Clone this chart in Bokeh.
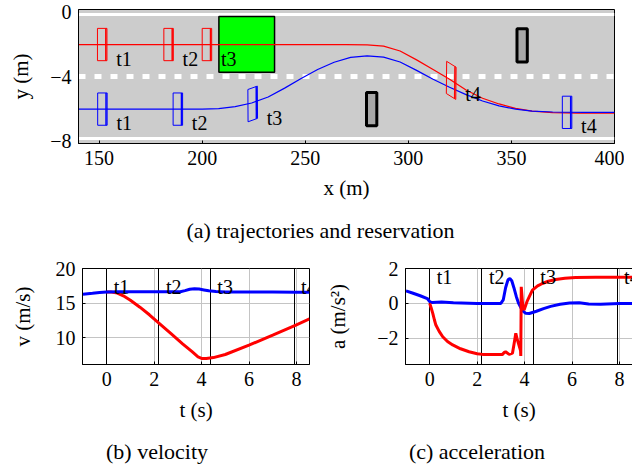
import numpy as np
from bokeh.plotting import figure
from bokeh.models import Range1d, FixedTicker
from bokeh.layouts import column, row
from bokeh.core.properties import value
from bokeh.embed import file_html
from bokeh.resources import INLINE

FONT = "Liberation Serif"

# ---------------- data: (a) trajectories and reservation ----------------
red_x = [140, 270, 280, 288, 296, 304, 312, 320, 328, 336, 344, 352, 360, 370, 382, 400]
red_y = [-2.0, -2.0, -2.02, -2.1, -2.4, -2.95, -3.55, -4.15, -4.82, -5.33, -5.68, -5.95, -6.12, -6.22, -6.25, -6.25]
blue_x = [140, 200, 208, 216, 224, 232, 240, 248, 256, 264, 272, 280, 288, 296, 304, 312,
          320, 328, 336, 344, 352, 360, 370, 385, 400]
blue_y = [-6.0, -6.0, -5.97, -5.85, -5.62, -5.25, -4.7, -4.1, -3.55, -3.1, -2.8, -2.7, -2.78,
          -3.08, -3.6, -4.15, -4.65, -5.1, -5.5, -5.8, -6.0, -6.12, -6.18, -6.2, -6.2]
veh_labels = ["t1", "t2", "t3", "t4"]
red_veh_x = [151.5, 183.7, 202.3, 320.8]
red_veh_y = [-2.0, -2.0, -2.0, -4.22]
red_veh_slope = [0.0, 0.0, 0.0, -0.08]
blue_veh_x = [151.6, 188.2, 224.5, 377.0]
blue_veh_y = [-6.0, -6.0, -5.68, -6.2]
blue_veh_slope = [0.0, 0.0, 0.046, 0.0]
veh_len = 4.6
veh_wid = 2.0
obs_x = [282.2, 355.2]
obs_y = [-6.0, -2.05]
obs_len = 5.0
obs_wid = 2.05
res_left, res_right, res_bottom, res_top = 208.1, 235.1, -3.72, -0.26
lane_edges = [-0.17, -7.8]
lane_mid = [-4.0]
top_xticks = [150, 200, 250, 300, 350, 400]
top_yticks = [0, -4, -8]
top_ytick_labels = ["0", "\u22124", "\u22128"]

# ---------------- data: (b) velocity, (c) acceleration ----------------
event_t = [0.0, 2.2, 4.37, 7.9]
vel_blue_t = [-1.0, -0.6, -0.3, 0.0, 0.5, 1.5, 2.5, 3.1, 3.3, 3.5, 3.7, 3.9, 4.1, 4.3, 4.6, 5.0, 6.0, 7.0, 8.0, 8.55]
vel_blue = [16.28, 16.42, 16.53, 16.6, 16.62, 16.62, 16.62, 16.63, 16.8, 17.0, 17.08, 17.02, 16.9, 16.78,
            16.66, 16.6, 16.6, 16.58, 16.56, 16.55]
vel_red_t = [0.0, 0.2, 0.45, 0.7, 1.0, 1.4, 1.8, 2.2, 2.7, 3.2, 3.6, 3.85, 4.0, 4.2, 4.5, 5.0, 6.0, 7.0, 8.0, 8.55]
vel_red = [16.6, 16.58, 16.45, 16.05, 15.4, 14.4, 13.3, 12.1, 10.6, 9.1, 7.95, 7.2, 6.98, 6.97, 7.1,
           7.55, 8.9, 10.35, 11.85, 12.7]
acc_blue_t = [-1.0, -0.7, -0.4, -0.1, 0.0, 0.1, 0.5, 1.0, 2.0, 3.0, 3.1, 3.2, 3.3, 3.38, 3.46, 3.55, 3.65,
              3.75, 3.9, 4.05, 4.2, 4.5, 4.8, 5.1, 5.5, 5.9, 6.3, 6.7, 7.2, 8.0, 8.55]
acc_blue = [0.72, 0.58, 0.44, 0.28, 0.1, 0.05, 0.08, 0.04, 0.0, 0.0, 0.2, 0.9, 1.35, 1.42, 1.3, 0.9, 0.4,
            0.0, -0.4, -0.57, -0.58, -0.45, -0.3, -0.17, -0.05, 0.02, 0.04, -0.04, -0.05, -0.01, 0.0]
acc_red_t = [0.0, 0.06, 0.13, 0.2, 0.26, 0.4, 0.55, 0.75, 0.97, 1.3, 1.66, 2.0, 2.23, 3.07, 3.15, 3.2, 3.35,
             3.49, 3.56, 3.63, 3.68, 3.74, 3.83, 3.84, 3.86, 3.92, 3.98, 4.1, 4.33, 4.55, 4.75, 5.0, 5.31,
             5.7, 6.15, 7.0, 8.55]
acc_red = [0.0, -0.25, -0.57, -0.95, -1.24, -1.6, -1.91, -2.18, -2.38, -2.6, -2.77, -2.88, -2.92, -2.92,
           -2.8, -2.77, -2.92, -2.85, -2.3, -1.71, -2.0, -2.29, -2.7, -3.01, 0.95, -0.1, -0.38, 0.1, 0.76,
           1.0, 1.14, 1.27, 1.37, 1.44, 1.49, 1.5, 1.5]
t_ticks = [0, 2, 4, 6, 8]
vel_ticks = [10, 15, 20]
acc_ticks = [-2, 0, 2]
acc_tick_labels = ["\u22122", "0", "2"]

captions = ["(a) trajectories and reservation", "(b) velocity", "(c) acceleration"]


def style_axes(p, tick_in_x=3, tick_in_y=3):
    for ax in p.axis:
        ax.major_label_text_font = FONT
        ax.major_label_text_font_size = "20px"
        ax.axis_label_text_font = FONT
        ax.axis_label_text_font_size = "21px"
        ax.axis_label_text_font_style = "normal"
        ax.major_tick_out = 0
        ax.minor_tick_in = 0
        ax.minor_tick_out = 0
        ax.major_label_standoff = 7
        ax.axis_line_color = "black"
        ax.major_tick_line_color = "black"
        ax.major_label_text_color = "black"
        ax.axis_label_text_color = "black"
    p.xaxis.major_tick_in = tick_in_x
    p.yaxis.major_tick_in = tick_in_y
    p.outline_line_color = "black"
    p.outline_line_width = 1
    p.outline_line_alpha = 1


def box(cx, cy, slope, L, W):
    th = np.arctan(slope)
    c, s = np.cos(th), np.sin(th)
    pts = [(L / 2, W / 2), (L / 2, -W / 2), (-L / 2, -W / 2), (-L / 2, W / 2)]
    xs = [cx + a * c - b * s for a, b in pts]
    ys = [cy + a * s + b * c for a, b in pts]
    a = L / 2 - 0.55
    fx = [cx + a * c - b * s for b in (W / 2, -W / 2)]
    fy = [cy + a * s + b * c for b in (W / 2, -W / 2)]
    return xs, ys, fx, fy


def caption_fig(height, xs, y_from_top, texts):
    # page-pixel coordinates: frame spans page x 78..614, same borders as the top figure
    c = figure(frame_width=536, frame_height=height, min_border_left=78, min_border_right=10,
               min_border_top=0, min_border_bottom=0,
               x_range=Range1d(78, 614), y_range=Range1d(0, height),
               x_axis_type=None, y_axis_type=None, output_backend="svg",
               toolbar_location=None, tools="")
    c.outline_line_color = None
    c.grid.visible = False
    c.text(x=xs, y=[height - y_from_top] * len(xs), text=texts, text_align="center",
           text_baseline="middle", text_font=value(FONT), text_font_size="22px", text_color="black")
    return c


# ---------------- top figure ----------------
p1 = figure(frame_width=536, frame_height=134, min_border_left=78, min_border_right=10,
            min_border_top=9, min_border_bottom=62,
            x_range=Range1d(140, 400), y_range=Range1d(-8.13, 0.17),
            output_backend="svg", toolbar_location=None, tools="")
p1.background_fill_color = "#cccccc"
p1.border_fill_color = "white"
p1.grid.visible = False
p1.xaxis.ticker = FixedTicker(ticks=top_xticks)
p1.yaxis.ticker = FixedTicker(ticks=top_yticks)
p1.yaxis.major_label_overrides = dict(zip(top_yticks, top_ytick_labels))
p1.xaxis.axis_label = "x (m)"
p1.yaxis.axis_label = "y (m)"
style_axes(p1, 3, 0)
p1.xaxis.axis_label_standoff = 8
p1.yaxis.axis_label_standoff = 14

p1.hspan(y=lane_edges, line_color="white", line_width=3)
p1.hspan(y=lane_mid, line_color="white", line_width=5, line_dash="7 9")
p1.quad(left=[res_left], right=[res_right], bottom=[res_bottom], top=[res_top],
        fill_color="#00ff00", line_color="black", line_width=1.5)
p1.rect(x=obs_x, y=obs_y, width=obs_len, height=obs_wid, fill_color="#a8a8a8",
        line_color="black", line_width=3)
p1.line(red_x, red_y, line_color="red", line_width=1.2)
p1.line(blue_x, blue_y, line_color="blue", line_width=1.2)

for vx, vy, vs, col in ((red_veh_x, red_veh_y, red_veh_slope, "red"),
                        (blue_veh_x, blue_veh_y, blue_veh_slope, "blue")):
    bxs, bys, fxs, fys = [], [], [], []
    for cx, cy, sl in zip(vx, vy, vs):
        xs, ys, fx, fy = box(cx, cy, sl, veh_len, veh_wid)
        bxs.append(xs); bys.append(ys); fxs.append(fx); fys.append(fy)
    p1.patches(bxs, bys, fill_color=None, line_color=col, line_width=1)
    p1.multi_line(fxs, fys, line_color=col, line_width=1.5)
    p1.text(x=vx, y=vy, text=veh_labels, x_offset=14, y_offset=14, text_align="left",
            text_baseline="alphabetic", text_font=value(FONT), text_font_size="20px",
            text_color="black")

cap_a = caption_fig(45, [320], 25, [captions[0]])


# ---------------- bottom figures ----------------
def bottom_fig(left_border, right_border, y0, y1, yticks, ylabel, t_list, curves, label_y_off,
               label_standoff, overrides=None):
    p = figure(frame_width=227, frame_height=96, min_border_left=left_border,
               min_border_right=right_border, min_border_top=18, min_border_bottom=58,
               x_range=Range1d(-1.02, 8.55), y_range=Range1d(y0, y1),
               output_backend="svg", toolbar_location=None, tools="")
    p.background_fill_color = "white"
    p.xaxis.ticker = FixedTicker(ticks=t_ticks)
    p.yaxis.ticker = FixedTicker(ticks=yticks)
    p.xgrid.ticker = FixedTicker(ticks=t_ticks)
    p.ygrid.ticker = FixedTicker(ticks=yticks)
    p.grid.grid_line_color = "#c4c4c4"
    p.grid.grid_line_width = 1
    if overrides:
        p.yaxis.major_label_overrides = overrides
    p.xaxis.axis_label = "t (s)"
    p.yaxis.axis_label = ylabel
    style_axes(p, 3, 3)
    p.xaxis.axis_label_standoff = 9
    p.yaxis.axis_label_standoff = label_standoff
    p.vspan(x=t_list, line_color="black", line_width=1)
    for tx, ty, col in curves:
        p.line(tx, ty, line_color=col, line_width=3)
    p.text(x=t_list, y=[y1] * len(t_list), text=veh_labels, x_offset=7, y_offset=label_y_off,
           text_align="left", text_baseline="alphabetic", text_font=value(FONT),
           text_font_size="20px", text_color="black")
    return p


p2 = bottom_fig(82, 14, 6.1, 20, vel_ticks, "v (m/s)", event_t,
                [(vel_red_t, vel_red, "red"), (vel_blue_t, vel_blue, "blue")], 18, 18)
p3 = bottom_fig(76, 3, -3.5, 2, acc_ticks, "a (m/s\u00b2)", event_t,
                [(acc_blue_t, acc_blue, "blue"), (acc_red_t, acc_red, "red")], 8, 24,
                dict(zip(acc_ticks, acc_tick_labels)))

cap_bc = caption_fig(44, [156.5, 476.5], 27, captions[1:])

layout = column(p1, cap_a, row(p2, p3), cap_bc)
open("out.html", "w").write(file_html(layout, INLINE))
